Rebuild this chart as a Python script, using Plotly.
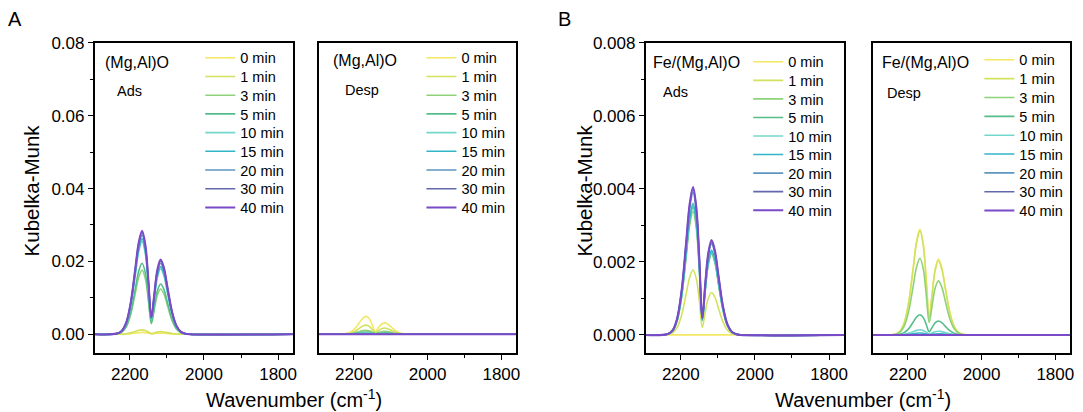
import plotly.graph_objects as go

W, H = 1083, 412

# ---------------- data ----------------
wavenumber = [2300, 2235, 2222, 2210, 2198, 2186, 2176, 2167, 2158, 2150, 2142,
              2134, 2126, 2117, 2108, 2098, 2086, 2074, 2062, 2050, 2040, 1755]
times = ["0 min", "1 min", "3 min", "5 min", "10 min", "15 min", "20 min", "30 min", "40 min"]

Z = [0] * 22

mgalo_ads = [
    [0, 0.000003, 0.000016, 0.000056, 0.00015, 0.000309, 0.000445, 0.0005, 0.00043, 0.000259, 0.000076, 0.000165, 0.000258, 0.0003, 0.000267, 0.000185, 0.00009, 0.000033, 0.00001, 0.000002, 0, 0],
    [0, 0.000007, 0.000038, 0.000133, 0.00036, 0.00074, 0.001067, 0.0012, 0.001032, 0.000621, 0.00018, 0.000386, 0.000602, 0.0007, 0.000622, 0.000432, 0.00021, 0.000078, 0.000022, 0.000005, 0, 0],
    [0, 0.000106, 0.000554, 0.001954, 0.00528, 0.010859, 0.015646, 0.0176, 0.015136, 0.009172, 0.00285, 0.006728, 0.010664, 0.0124, 0.011024, 0.007651, 0.00372, 0.001376, 0.000391, 0.000087, 0, 0],
    [0, 0.000117, 0.000614, 0.002165, 0.00585, 0.012032, 0.017336, 0.0195, 0.01677, 0.010164, 0.003164, 0.007485, 0.011868, 0.0138, 0.012268, 0.008515, 0.00414, 0.001532, 0.000435, 0.000097, 0, 0],
    [0, 0.000153, 0.000803, 0.002831, 0.00765, 0.015734, 0.02267, 0.0255, 0.02193, 0.01329, 0.004133, 0.009765, 0.01548, 0.018, 0.016002, 0.011106, 0.0054, 0.001998, 0.000567, 0.000126, 0, 0],
    [0, 0.000157, 0.000825, 0.002908, 0.00786, 0.016165, 0.023292, 0.0262, 0.022532, 0.013658, 0.004256, 0.010086, 0.015996, 0.0186, 0.016535, 0.011476, 0.00558, 0.002065, 0.000586, 0.00013, 0, 0],
    [0, 0.000163, 0.000857, 0.003019, 0.00816, 0.016782, 0.024181, 0.0272, 0.023392, 0.014185, 0.004437, 0.010566, 0.01677, 0.0195, 0.017336, 0.012032, 0.00585, 0.002165, 0.000614, 0.000137, 0, 0],
    [0, 0.000168, 0.000882, 0.003108, 0.0084, 0.017276, 0.024892, 0.028, 0.02408, 0.014603, 0.00457, 0.01089, 0.017286, 0.0201, 0.017869, 0.012402, 0.00603, 0.002231, 0.000633, 0.000141, 0, 0],
    [0, 0.00017, 0.000895, 0.003152, 0.00852, 0.017523, 0.025248, 0.0284, 0.024424, 0.014815, 0.004646, 0.011102, 0.01763, 0.0205, 0.018225, 0.012649, 0.00615, 0.002276, 0.000646, 0.000144, 0, 0],
]

mgalo_desp = [
    [0, 0.000029, 0.000154, 0.000544, 0.00147, 0.003023, 0.004356, 0.0049, 0.004214, 0.002543, 0.00076, 0.001697, 0.002666, 0.0031, 0.002756, 0.001913, 0.00093, 0.000344, 0.000098, 0.000022, 0, 0],
    [0, 0.000015, 0.000079, 0.000278, 0.00075, 0.001543, 0.002223, 0.0025, 0.00215, 0.001301, 0.000399, 0.000925, 0.001462, 0.0017, 0.001511, 0.001049, 0.00051, 0.000189, 0.000054, 0.000012, 0, 0],
    [0, 0.000007, 0.000035, 0.000122, 0.00033, 0.000679, 0.000978, 0.0011, 0.000946, 0.000574, 0.00018, 0.000433, 0.000688, 0.0008, 0.000711, 0.000494, 0.00024, 0.000089, 0.000025, 0.000006, 0, 0],
    [0, 0.000004, 0.000019, 0.000067, 0.00018, 0.00037, 0.000533, 0.0006, 0.000516, 0.000312, 0.000095, 0.000218, 0.000344, 0.0004, 0.000356, 0.000247, 0.00012, 0.000044, 0.000013, 0.000003, 0, 0],
    [0, 0.000002, 0.00001, 0.000033, 0.00009, 0.000185, 0.000267, 0.0003, 0.000258, 0.000156, 0.000048, 0.000109, 0.000172, 0.0002, 0.000178, 0.000123, 0.00006, 0.000022, 0.000006, 0, 0, 0],
    [0, 0.000001, 0.000005, 0.000017, 0.000045, 0.000093, 0.000133, 0.00015, 0.000129, 0.000078, 0.000024, 0.000055, 0.000086, 0.0001, 0.000089, 0.000062, 0.00003, 0.000011, 0.000003, 0, 0, 0],
    [0, 0, 0.000003, 0.000009, 0.000024, 0.000049, 0.000071, 0.00008, 0.000069, 0.000042, 0.000012, 0.000027, 0.000043, 0.00005, 0.000045, 0.000031, 0.000015, 0.000006, 0, 0, 0, 0],
    Z,
    Z,
]

fe_ads = [
    Z,
    [0, 0.000011, 0.000056, 0.000198, 0.000534, 0.001098, 0.001582, 0.00178, 0.001531, 0.000925, 0.000206, 0.000633, 0.000998, 0.00116, 0.001031, 0.000716, 0.000348, 0.000129, 0.000037, 0.000008, 0, 0],
    [0, 0.00002, 0.000106, 0.000375, 0.001014, 0.002085, 0.003005, 0.00338, 0.002907, 0.001757, 0.000392, 0.001211, 0.001909, 0.00222, 0.001974, 0.00137, 0.000666, 0.000246, 0.00007, 0.000016, 0, 0],
    [0, 0.000021, 0.00011, 0.000389, 0.00105, 0.00216, 0.003112, 0.0035, 0.00301, 0.001818, 0.000403, 0.001235, 0.001944, 0.00226, 0.002009, 0.001394, 0.000678, 0.000251, 0.000071, 0.000016, 0, 0],
    [0, 0.000021, 0.000112, 0.000395, 0.001068, 0.002197, 0.003165, 0.00356, 0.003062, 0.001849, 0.00041, 0.001257, 0.001978, 0.0023, 0.002045, 0.001419, 0.00069, 0.000255, 0.000073, 0.000016, 0, 0],
    [0, 0.000022, 0.000113, 0.0004, 0.00108, 0.002221, 0.0032, 0.0036, 0.003096, 0.00187, 0.000414, 0.001268, 0.001995, 0.00232, 0.002062, 0.001431, 0.000696, 0.000258, 0.000073, 0.000016, 0, 0],
    [0, 0.000023, 0.000123, 0.000433, 0.00117, 0.002406, 0.003467, 0.0039, 0.003354, 0.002025, 0.000448, 0.001367, 0.00215, 0.0025, 0.002223, 0.001543, 0.00075, 0.000278, 0.000079, 0.000018, 0, 0],
    [0, 0.000024, 0.000126, 0.000444, 0.0012, 0.002468, 0.003556, 0.004, 0.00344, 0.002077, 0.000459, 0.0014, 0.002202, 0.00256, 0.002276, 0.00158, 0.000768, 0.000284, 0.000081, 0.000018, 0, 0],
    [0, 0.000024, 0.000128, 0.00045, 0.001215, 0.002499, 0.0036, 0.00405, 0.003483, 0.002103, 0.000466, 0.001422, 0.002236, 0.0026, 0.002311, 0.001604, 0.00078, 0.000289, 0.000082, 0.000018, 0, 0],
]

fe_desp = [
    [0, 0.000017, 0.000091, 0.000322, 0.00087, 0.001789, 0.002578, 0.0029, 0.002494, 0.001512, 0.000473, 0.001127, 0.001789, 0.00208, 0.001849, 0.001283, 0.000624, 0.000231, 0.000066, 0.000015, 0, 0],
    [0, 0.000017, 0.00009, 0.000316, 0.000855, 0.001758, 0.002534, 0.00285, 0.002451, 0.001486, 0.000464, 0.001101, 0.001746, 0.00203, 0.001805, 0.001253, 0.000609, 0.000225, 0.000064, 0.000014, 0, 0],
    [0, 0.000013, 0.000066, 0.000233, 0.00063, 0.001296, 0.001867, 0.0021, 0.001806, 0.001094, 0.00034, 0.000803, 0.001273, 0.00148, 0.001316, 0.000913, 0.000444, 0.000164, 0.000047, 0.00001, 0, 0],
    [0, 0.000003, 0.000017, 0.000061, 0.000165, 0.000339, 0.000489, 0.00055, 0.000473, 0.000286, 0.000088, 0.000207, 0.000327, 0.00038, 0.000338, 0.000234, 0.000114, 0.000042, 0.000012, 0, 0, 0],
    [0, 0, 0.000004, 0.000016, 0.000042, 0.000086, 0.000124, 0.00014, 0.00012, 0.000073, 0.000023, 0.000054, 0.000086, 0.0001, 0.000089, 0.000062, 0.00003, 0.000011, 0, 0, 0, 0],
    [0, 0, 0.000002, 0.000006, 0.000015, 0.000031, 0.000045, 0.00005, 0.000043, 0.000026, 0.000008, 0.000017, 0.000026, 0.00003, 0.000027, 0.000019, 0.000009, 0, 0, 0, 0, 0],
    Z,
    Z,
    Z,
]

colors = ["#F3E863", "#D2E25E", "#8FD27A", "#55BD8C", "#73D8CB", "#33B5C8", "#5E96C0", "#6267AE", "#7A4AC8"]

panel_titles = ["(Mg,Al)O", "(Mg,Al)O", "Fe/(Mg,Al)O", "Fe/(Mg,Al)O"]
panel_modes = ["Ads", "Desp", "Ads", "Desp"]

# ---------------- layout helpers ----------------
# the page shows the figure slightly squeezed vertically (offset ~8px, scale ~0.98);
# target pixel positions below are measured on the reference picture.
V_OFF, V_SCALE = 8.0, 0.9806

def fx(px):
    return px / W

def fy(py):
    return 1 - ((py - V_OFF) / V_SCALE) / H

FONT = "Liberation Sans, Arial, sans-serif"
x_dom = [(95, 294), (320, 518), (648, 847), (876, 1074)]
y_top, y_bot = 42, 353
# legend: left x (px), first row centre y (px), row step (px)
legend_pos = [(201, 57, 18.75), (423, 57, 18.75), (751, 61, 18.6), (983, 59, 18.9)]
title_pos = [(103, 62), (332, 60), (653, 62), (883, 62)]
mode_pos = [(115, 90), (344, 89), (663, 91), (888, 92)]

fig = go.Figure()
layout = dict(
    width=W, height=H, margin=dict(l=0, r=0, t=0, b=0),
    paper_bgcolor="white", plot_bgcolor="white",
    font=dict(family=FONT, color="black"),
    showlegend=True,
)

panels = [mgalo_ads, mgalo_desp, fe_ads, fe_desp]
k = 0
for p, series in enumerate(panels):
    sfx = "" if p == 0 else str(p + 1)
    lx, ly0, step = legend_pos[p]
    for i, ys in enumerate(series):
        k += 1
        lg = "legend" if k == 1 else "legend%d" % k
        fig.add_trace(go.Scatter(
            x=wavenumber, y=ys, mode="lines", name=times[i],
            line=dict(color=colors[i], width=2.0 if i == 8 else 1.6, shape="spline", smoothing=1.0),
            xaxis="x" + sfx, yaxis="y" + sfx, legend=lg,
        ))
        layout[lg] = dict(
            x=fx(lx), y=fy(ly0 + i * step), xanchor="left", yanchor="middle",
            xref="paper", yref="paper",
            bgcolor="rgba(0,0,0,0)", borderwidth=0,
            font=dict(size=14.5, family=FONT, color="black"),
            itemwidth=30,
        )

for p in range(4):
    sfx = "" if p == 0 else str(p + 1)
    is_A = p < 2
    left = p in (0, 2)
    layout["xaxis" + sfx] = dict(
        domain=[fx(x_dom[p][0]), fx(x_dom[p][1])], anchor="y" + sfx,
        range=[2295, 1760], tickvals=[2200, 2000, 1800],
        ticks="outside", ticklen=5, tickwidth=1.3, tickcolor="black",
        minor=dict(ticks="outside", ticklen=3, tickwidth=1, tickcolor="black", tickvals=[2300, 2100, 1900]),
        showline=True, linecolor="black", linewidth=1.5, mirror=True,
        showgrid=False, zeroline=False,
        tickfont=dict(size=17, family=FONT, color="black"),
    )
    ya = dict(
        domain=[fy(y_bot), fy(y_top)], anchor="x" + sfx,
        range=[-0.0052, 0.08] if is_A else [-0.0005, 0.008],
        showline=True, linecolor="black", linewidth=1.5, mirror=True,
        showgrid=False, zeroline=False,
    )
    if left:
        ya.update(
            tickvals=[0, 0.02, 0.04, 0.06, 0.08] if is_A else [0, 0.002, 0.004, 0.006, 0.008],
            tickformat=".2f" if is_A else ".3f",
            ticks="outside", ticklen=5, tickwidth=1.3, tickcolor="black",
            minor=dict(ticks="outside", ticklen=3, tickwidth=1, tickcolor="black",
                       tickvals=[0.01, 0.03, 0.05, 0.07] if is_A else [0.001, 0.003, 0.005, 0.007]),
            tickfont=dict(size=17, family=FONT, color="black"),
        )
    else:
        ya.update(showticklabels=False, ticks="")
    layout["yaxis" + sfx] = ya

annotations = []
for p in range(4):
    annotations.append(dict(x=fx(title_pos[p][0]), y=fy(title_pos[p][1]), xref="paper", yref="paper",
                            text=panel_titles[p], showarrow=False, xanchor="left", yanchor="middle",
                            font=dict(size=16, family=FONT, color="black")))
    annotations.append(dict(x=fx(mode_pos[p][0]), y=fy(mode_pos[p][1]), xref="paper", yref="paper",
                            text=panel_modes[p], showarrow=False, xanchor="left", yanchor="middle",
                            font=dict(size=14.5, family=FONT, color="black")))

for lab, (xx, yy) in [("A", (15, 18)), ("B", (567, 18))]:
    annotations.append(dict(x=fx(xx), y=fy(yy), xref="paper", yref="paper", text=lab, showarrow=False,
                            xanchor="center", yanchor="middle", font=dict(size=20, family=FONT, color="black")))

for xx in (32, 587):
    annotations.append(dict(x=fx(xx), y=fy(190), xref="paper", yref="paper", text="Kubelka-Munk",
                            showarrow=False, textangle=-90, xanchor="center", yanchor="middle",
                            font=dict(size=20.5, family=FONT, color="black")))

for xx in (295, 866):
    annotations.append(dict(x=fx(xx), y=fy(398), xref="paper", yref="paper",
                            text="Wavenumber (cm<sup>-1</sup>)", showarrow=False,
                            xanchor="center", yanchor="middle",
                            font=dict(size=20, family=FONT, color="black")))

layout["annotations"] = annotations
fig.update_layout(**layout)
fig.write_html("out.html")
